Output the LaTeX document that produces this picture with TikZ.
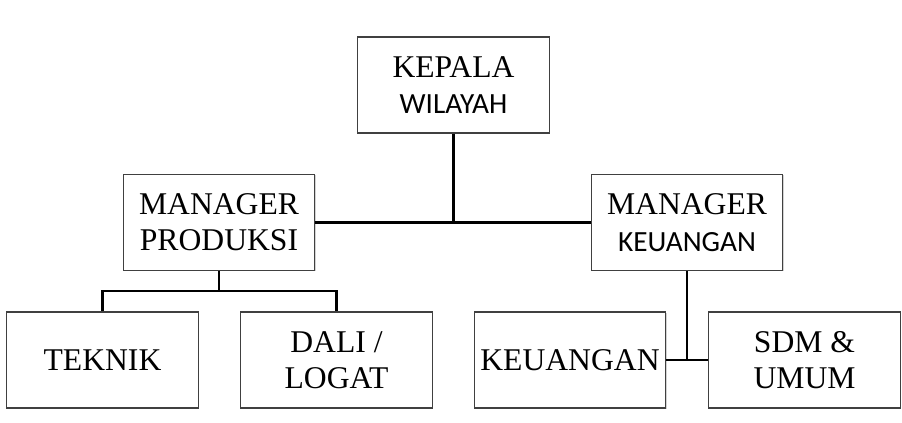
\documentclass[tikz,border=0pt]{standalone}
\usepackage{fontspec}
\setmainfont{Liberation Serif}
\newfontfamily\boxserif{Liberation Serif}
\newfontfamily\boxsans{Carlito}
\newcommand{\sanspart}[1]{{\fontsize{25}{31}\selectfont\boxsans #1}}
\usepackage{tikz}
\usetikzlibrary{shadows}

\begin{document}
\begin{tikzpicture}[x=0.03cm, y=-0.03cm,
        unit/.style={draw=black!75, line width=1pt, fill=white,
            drop shadow={shadow xshift=0.8pt, shadow yshift=-0.8pt, opacity=0.35},
            minimum width=5.75cm, minimum height=2.88cm, inner sep=0pt,
            align=center, font=\fontsize{27}{31}\selectfont\boxserif},
        link/.style={line width=2.4pt}]
    % Fixed Bounding Box for alignment
    \useasboundingbox (0,0) rectangle (902,422);

    % Top level
    \node[unit] (kepala) at (453.5,85) {KEPALA\\\sanspart{WILAYAH}};

    % Managers
    \node[unit] (mprod) at (219,222.5) {MANAGER\\PRODUKSI};
    \node[unit] (mkeu) at (687,222.5) {MANAGER\\\sanspart{KEUANGAN}};

    % Units under the managers
    \node[unit] (teknik) at (102.5,360) {TEKNIK};
    \node[unit] (dali) at (336.5,360) {DALI /\\LOGAT};
    \node[unit] (keu) at (570,360) {KEUANGAN};
    \node[unit] (sdm) at (804.5,360) {SDM \&\\UMUM};

    % Lines
    \draw[link] (kepala.south) -- (kepala.south |- mprod.east);
    \draw[link] (mprod.east) -- (mkeu.west);
    \path (mprod.south) ++(0,20) coordinate (split);
    \draw[link] (mprod.south) -- (split);
    \draw[link] (teknik.north) |- (split) -| (dali.north);
    \draw[link] (mkeu.south) -- (mkeu.south |- keu.east);
    \draw[link] (keu.east) -- (sdm.west);
\end{tikzpicture}
\end{document}
